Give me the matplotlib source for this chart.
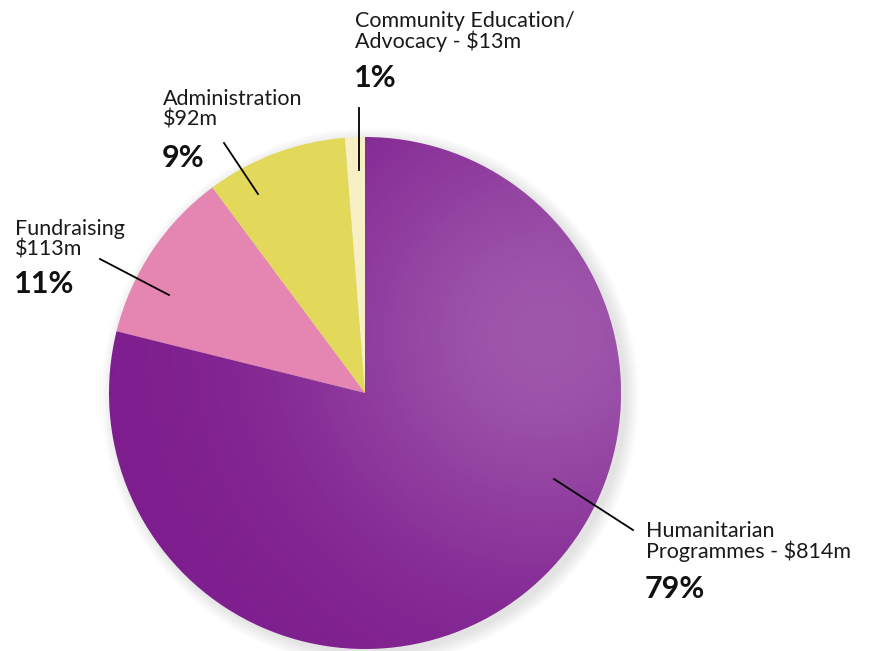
import numpy as np
import matplotlib
matplotlib.use('Agg')
import matplotlib.pyplot as plt
from matplotlib.patches import Circle

plt.rcParams['font.family'] = ['Lato', 'DejaVu Sans']

# data
names = ['Community Education/\nAdvocacy', 'Administration', 'Fundraising', 'Humanitarian\nProgrammes']
amounts = [13, 92, 113, 814]
seps = [' - ', '\n', '\n', ' - ']
colors = ['#f7f0c4', '#e2d95a', '#e585b1', '#7e1d8e']

W, H = 869, 651
fig = plt.figure(figsize=(W / 100, H / 100), dpi=100)
ax = fig.add_axes([0, 0, 1, 1])


def px(x, y):
    # image pixel coords -> axes data coords
    return x, H - y


cx, cy = px(365, 393)
R = 256

# soft shadow behind the pie
for i in range(14):
    ax.add_patch(Circle((cx + 5, cy - 4), R + 13 - i, color='#a0a89f', alpha=0.02, lw=0, zorder=0))

wedges, _ = ax.pie(amounts, colors=colors, startangle=90, counterclock=True,
                   center=(cx, cy), radius=R, wedgeprops=dict(linewidth=0))

# lighter highlight on the big purple slice
hx, hy = px(545, 335)
gx, gy = np.meshgrid(np.linspace(cx - R, cx + R, 300), np.linspace(cy - R, cy + R, 300))
d2 = (gx - hx) ** 2 + (gy - hy) ** 2
alpha = 0.36 * np.exp(-d2 / (2 * 165 ** 2))
img = np.zeros(gx.shape + (4,))
img[..., 0] = 0.85
img[..., 1] = 0.75
img[..., 2] = 0.88
img[..., 3] = alpha
im = ax.imshow(img, extent=(cx - R, cx + R, cy - R, cy + R), origin='lower', zorder=2)
im.set_clip_path(wedges[3])

total = sum(amounts)
pcts = ['%d%%' % round(a * 100 / total) for a in amounts]
labels = ['%s%s$%dm' % (n, s, a) for n, s, a in zip(names, seps, amounts)]

# label layout: text x, first baseline y, percent baseline y, leader line (outer, inner)
layout = [
    (355, 27, 87, (359, 108), (359, 170)),
    (163, 105, 167, (224, 143), (258, 194)),
    (15, 235, 293, (100, 259), (169, 295)),
    (646, 537, 598, (633, 530), (554, 479)),
]

for lab, pct, (tx, ty, py, p_out, p_in) in zip(labels, pcts, layout):
    lines = lab.split('\n')
    for k, ln in enumerate(lines):
        ax.text(*px(tx, ty + 20.5 * k), ln, fontsize=15.5, color='#1a1a1a', va='baseline', ha='left')
    ax.text(*px(tx - 1, py), pct, fontsize=22, fontweight='bold', color='#111111', va='baseline', ha='left')
    ax.plot(*zip(px(*p_out), px(*p_in)), color='black', lw=1.3, zorder=3)

ax.set_xlim(0, W)
ax.set_ylim(0, H)
ax.set_aspect('auto')
ax.axis('off')

fig.savefig('out.png', dpi=100)
